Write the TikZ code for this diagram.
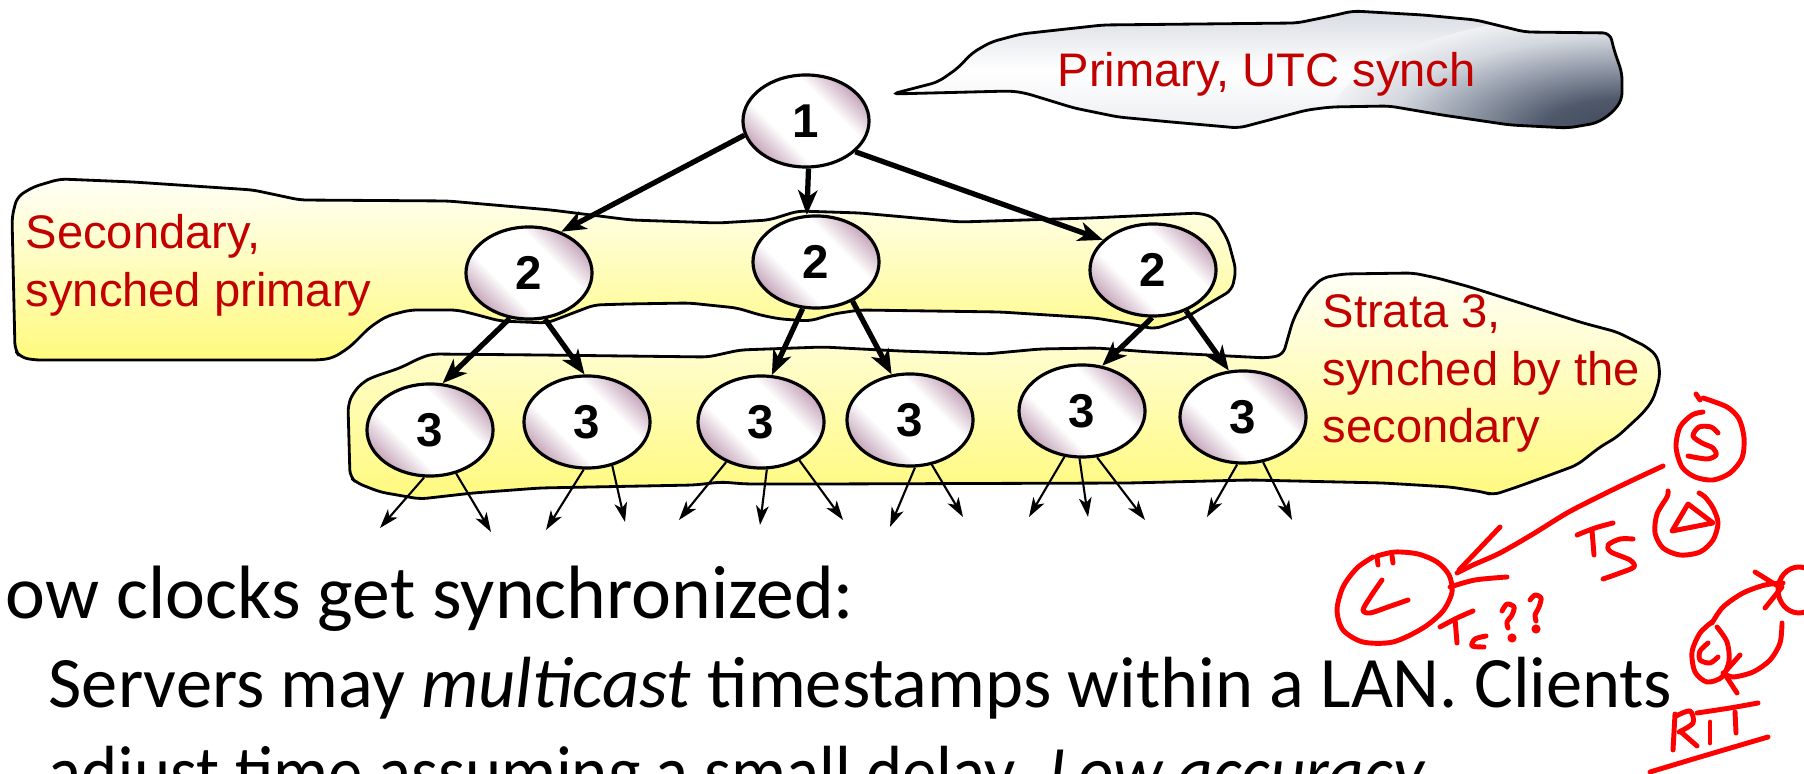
\documentclass[tikz,border=0pt]{standalone}
\usepackage{fontspec}
\setmainfont{Carlito}
\newfontfamily\helv{Liberation Sans}
\usetikzlibrary{shapes.geometric,arrows.meta}
\definecolor{mauve}{RGB}{186,148,172}
\definecolor{labelred}{RGB}{195,0,0}
\definecolor{blobtop}{RGB}{255,255,248}
\definecolor{blobbot}{RGB}{255,250,125}
\definecolor{bubblelt}{RGB}{212,216,223}
\definecolor{bubblemd}{RGB}{150,158,172}
\definecolor{bubbledk}{RGB}{62,72,90}
\definecolor{ink}{RGB}{255,0,0}
\pgfdeclareverticalshading{orb}{100bp}{color(0bp)=(mauve); color(22bp)=(mauve); color(38bp)=(white);
    color(62bp)=(white); color(78bp)=(mauve); color(100bp)=(mauve)}
\pgfdeclareradialshading{glow}{\pgfpointorigin}{color(0bp)=(bubbledk); color(7bp)=(bubbledk!80!bubblemd);
    color(14bp)=(bubblemd); color(20bp)=(bubblelt); color(25bp)=(bubblelt!35!white); color(50bp)=(bubblelt!35!white)}
\newcommand\stratum[1]{\raisebox{-2.8pt}{#1}}

\begin{document}
\begin{tikzpicture}[x=0.01cm,y=-0.01cm,
    srv/.style={ellipse,draw,line width=0.9pt,minimum width=1.26cm,minimum height=0.92cm,inner sep=0pt,
        shading=orb,shading angle=-45,font=\helv\bfseries\fontsize{13.5}{13.5}\selectfont},
    blob/.style={draw,line width=0.8pt,rounded corners=2pt,top color=blobtop,bottom color=blobbot},
    lbl/.style={anchor=base west,inner sep=0pt,text=labelred,font=\helv\fontsize{13.4}{16}\selectfont},
    bodytext/.style={anchor=base west,inner sep=0pt,font=\fontsize{20.6}{24}\selectfont},
    fat/.style={line width=1.5pt,-{Stealth[length=7pt,width=5.5pt,inset=2pt]}},
    slim/.style={line width=0.6pt,-{Stealth[length=5.5pt,width=3.6pt,inset=1.5pt]}},
    redpen/.style={draw=ink,line width=1.4pt,line cap=round,line join=round}]
    \useasboundingbox (0,0) rectangle (1804,774);
    \clip (0,0) rectangle (1804,774);

    \coordinate (A1) at (380,528);
    \coordinate (A2) at (491,532);
    \coordinate (B1) at (546,530);
    \coordinate (B2) at (625,522);
    \coordinate (C1) at (679,520);
    \coordinate (C2) at (760,525);
    \coordinate (C3) at (843,520);
    \coordinate (D1) at (890,527);
    \coordinate (D2) at (963,517);
    \coordinate (E1) at (1029,517);
    \coordinate (E2) at (1088,517);
    \coordinate (E3) at (1145,520);
    \coordinate (F1) at (1207,517);
    \coordinate (F2) at (1292,520);

    % speech bubble of the primary
    \def\bubble{(892,94) -- (938,82) -- (958,68) -- (972,53) -- (991,42) -- (1021,34) -- (1103,25) -- (1297,23)
        -- (1336,15) -- (1353,11) -- (1423,15) -- (1476,20) -- (1525,32) -- (1610,33) -- (1614,50)
        -- (1622,73) -- (1622,100) -- (1612,113) -- (1597,123) -- (1568,128) -- (1510,125) -- (1442,115)
        -- (1389,106) -- (1331,107) -- (1307,110) -- (1239,128) -- (1171,122) -- (1118,117) -- (1074,108)
        -- (1025,93) -- (1011,91) -- cycle}
    \begin{scope}
        \clip[rounded corners=2pt] \bubble;
        \shade[top color=bubblelt,bottom color=bubblelt!50!white,middle color=white] (880,5) rectangle (1630,135);
        \shade[shading=glow] (1625,132) ellipse [x radius=300, y radius=120];
    \end{scope}
    \draw[line width=0.8pt,rounded corners=2pt] \bubble;

    \draw[blob] (60,179) -- (133,182) -- (253,190) -- (300,200) -- (448,201) -- (551,210) -- (631,220)
        -- (718,223) -- (769,220) -- (798,211) -- (860,213) -- (960,222) -- (1090,218) -- (1200,213)
        -- (1215,218) -- (1228,240) -- (1236,270) -- (1232,290) -- (1210,303) -- (1185,318) -- (1155,329)
        -- (1125,323) -- (1095,318) -- (1000,312) -- (860,310) -- (833,314) -- (810,321) -- (780,319)
        -- (760,315) -- (737,308) -- (689,303) -- (627,304) -- (594,305) -- (547,323) -- (500,321)
        -- (470,313) -- (457,310) -- (410,310) -- (387,316) -- (370,327) -- (350,347) -- (333,358)
        -- (320,360) -- (33,360) -- (20,357) -- (15,350) -- (12,217) -- (17,197) -- (33,187) -- cycle;

    \draw[blob] (432,354) -- (540,355) -- (708,357) -- (740,350) -- (823,347) -- (900,351) -- (986,354)
        -- (1040,349) -- (1097,348) -- (1150,352) -- (1267,358) -- (1283,355) -- (1293,320) -- (1307,293)
        -- (1322,278) -- (1343,274) -- (1413,273) -- (1437,278) -- (1470,287) -- (1583,323) -- (1617,332)
        -- (1647,347) -- (1658,357) -- (1660,377) -- (1653,400) -- (1643,413) -- (1617,437) -- (1600,447)
        -- (1577,465) -- (1550,475) -- (1517,487) -- (1493,495) -- (1483,492) -- (1450,487) -- (1383,483)
        -- (1250,480) -- (1129,483) -- (823,484) -- (746,484) -- (721,482) -- (695,485) -- (540,488)
        -- (473,493) -- (420,499) -- (380,492) -- (357,483) -- (350,477) -- (348,405) -- (353,393)
        -- (363,382) -- (373,377) -- (400,368) -- (420,358) -- cycle;

    \node[srv] (P) at (806,121) {\stratum{1}};
    \node[srv] (S1) at (529,273) {\stratum{2}};
    \node[srv] (S2) at (816,262) {\stratum{2}};
    \node[srv] (S3) at (1153,270) {\stratum{2}};
    \node[srv] (T1) at (430,430) {\stratum{3}};
    \node[srv] (T2) at (587,422) {\stratum{3}};
    \node[srv] (T3) at (761,422) {\stratum{3}};
    \node[srv] (T4) at (910,420) {\stratum{3}};
    \node[srv] (T5) at (1082,411) {\stratum{3}};
    \node[srv] (T6) at (1243,417) {\stratum{3}};

    \draw[fat] (P.193) -- (S1.52);
    \draw[fat] (P.-87) -- (S2.101);
    \draw[fat] (P.-32) -- (S3.149);
    \draw[fat] (S1.-113) -- (T1.75);
    \draw[fat] (S1.-71) -- (T2.93);
    \draw[fat] (S2.-106) -- (T3.77);
    \draw[fat] (S2.-47) -- (T4.112);
    \draw[fat] (S3.-91) -- (T5.66);
    \draw[fat] (S3.-51) -- (T6.107);

    \draw[slim] (T1.-97) -- (A1);
    \draw[slim] (T1.-59) -- (A2);
    \draw[slim] (T2.-94) -- (B1);
    \draw[slim] (T2.-60) -- (B2);
    \draw[slim] (T3.-131) -- (C1);
    \draw[slim] (T3.-83) -- (C2);
    \draw[slim] (T3.-45) -- (C3);
    \draw[slim] (T4.-84) -- (D1);
    \draw[slim] (T4.-64) -- (D2);
    \draw[slim] (T5.-111) -- (E1);
    \draw[slim] (T5.-93) -- (E2);
    \draw[slim] (T5.-72) -- (E3);
    \draw[slim] (T6.-97) -- (F1);
    \draw[slim] (T6.-66) -- (F2);

    \node[lbl] (Lp) at (1057,87) {Primary, UTC synch};
    \node[lbl] (Ls1) at (25,249) {Secondary,};
    \node[lbl] (Ls2) at (25,307) {synched primary};
    \node[lbl] (Lt1) at (1322,328) {Strata 3,};
    \node[lbl] (Lt2) at (1322,386) {synched by the};
    \node[lbl] (Lt3) at (1322,443) {secondary};

    \node[bodytext,font=\fontsize{21.5}{24}\selectfont] (H) at (5,619) {ow clocks get synchronized:};
    \node[bodytext] (M1) at (48,708) {Servers may \textit{multicast} timestamps within a LAN. Clients};
    \node[bodytext] (M2) at (48,797) {\scalebox{0.95}[1]{adjust time assuming a small delay. \textit{Low accuracy}}};

    % server S
    \draw[redpen] (1696,394) -- (1700,400);
    \draw[redpen] plot[smooth] coordinates {(1703,398) (1727,407) (1739,419) (1744,438) (1742,458) (1730,473) (1713,480) (1695,477) (1682,467) (1676,447) (1680,427) (1692,415) (1703,412)};
    \draw[redpen] plot[smooth] coordinates {(1718,433) (1711,427) (1699,427) (1693,436) (1702,443) (1713,448) (1716,455) (1707,459) (1688,456)};
    % message to client
    \draw[redpen] plot[smooth] coordinates {(1663,466) (1633,480) (1600,496) (1567,513) (1533,534) (1500,553) (1473,565) (1457,573)};
    \draw[redpen] plot[smooth] coordinates {(1500,527) (1480,548) (1459,570)};
    \draw[redpen] plot[smooth] coordinates {(1450,587) (1475,580) (1507,577)};
    % client C
    \draw[redpen] plot[smooth] coordinates {(1377,556) (1395,552) (1418,554) (1437,562) (1449,575) (1452,592) (1443,611) (1423,628) (1393,642) (1363,642) (1343,630) (1337,610) (1343,587) (1357,568) (1373,557)};
    \draw[redpen] (1377,557) -- (1378,565);
    \draw[redpen] (1392,556) -- (1393,563);
    \draw[redpen] plot[smooth] coordinates {(1382,580) (1371,596) (1363,610) (1370,613) (1388,607) (1408,600)};
    % T_S
    \draw[redpen] plot[smooth] coordinates {(1577,535) (1595,528) (1613,523)};
    \draw[redpen] (1592,531) -- (1594,555);
    \draw[redpen] plot[smooth] coordinates {(1633,539) (1620,539) (1608,545) (1611,552) (1630,560) (1634,567) (1620,573) (1603,579)};
    % delta
    \draw[redpen] plot[smooth] coordinates {(1668,491) (1667,497) (1657,514) (1655,533) (1663,548) (1680,555) (1700,552) (1713,540) (1718,523) (1713,508) (1705,497) (1699,493)};
    \draw[redpen] (1713,523) -- (1688,504) -- (1672,531) -- cycle;
    % T_c ??
    \draw[redpen] plot[smooth] coordinates {(1440,627) (1457,618) (1473,611)};
    \draw[redpen] (1455,619) -- (1457,643);
    \draw[redpen] plot[smooth] coordinates {(1486,636) (1475,639) (1472,646) (1484,647)};
    \draw[redpen] plot[smooth] coordinates {(1502,611) (1507,604) (1514,607) (1512,615) (1507,622) (1508,628)};
    \fill[ink] (1512,638) circle (1.3pt);
    \draw[redpen] plot[smooth] coordinates {(1530,600) (1535,595) (1541,598) (1539,607) (1535,615) (1536,621)};
    \fill[ink] (1536,629) circle (1.3pt);
    % round trip
    \draw[redpen] plot[smooth] coordinates {(1712,622) (1700,633) (1692,652) (1695,672) (1707,682) (1722,677) (1729,661) (1727,642) (1717,627)};
    \draw[redpen] plot[smooth] coordinates {(1708,643) (1700,651) (1700,660) (1710,663) (1718,657)};
    \draw[redpen] plot[smooth] coordinates {(1712,623) (1723,607) (1743,593) (1765,585) (1783,583)};
    \draw[redpen] (1755,572) -- (1781,588);
    \draw[redpen] (1765,608) -- (1782,587);
    \draw[redpen] (1799,590) circle [x radius=21, y radius=23];
    \draw[redpen] plot[smooth] coordinates {(1782,623) (1780,643) (1770,660) (1753,672) (1733,677) (1723,673)};
    \draw[redpen] (1740,655) -- (1724,673) -- (1737,693);
    \draw[redpen] (1675,714) -- (1673,750);
    \draw[redpen] plot[smooth] coordinates {(1676,716) (1690,711) (1693,723) (1679,732)};
    \draw[redpen] (1681,732) -- (1697,746);
    \draw[redpen] plot[smooth] coordinates {(1697,713) (1730,708) (1758,703)};
    \draw[redpen] (1710,722) -- (1710,743);
    \draw[redpen] (1735,712) -- (1736,733);
    \draw[redpen] plot[smooth] coordinates {(1650,772) (1700,757) (1768,737)};
\end{tikzpicture}
\end{document}
